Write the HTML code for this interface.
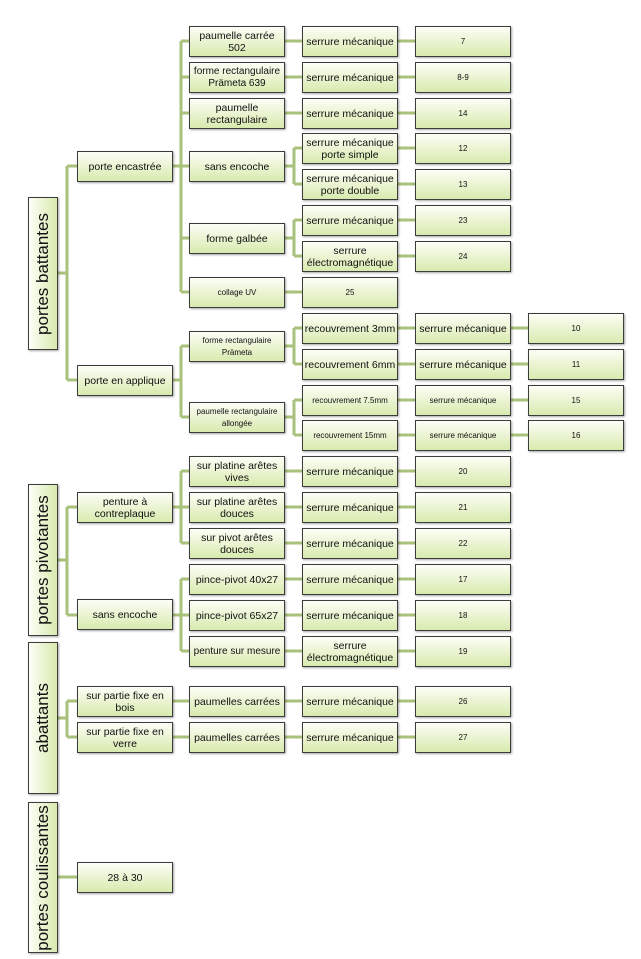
<!DOCTYPE html>
<html><head><meta charset="utf-8"><style>
body{margin:0;width:641px;height:959px;background:#fff;position:relative;overflow:hidden;font-family:"Liberation Sans",sans-serif;}
.b{position:absolute;border:1px solid #3c3c3c;background:linear-gradient(#fcfef6,#d8eaae);box-shadow:1px 1px 2px rgba(0,0,0,.35);display:flex;align-items:center;justify-content:center;text-align:center;font-size:10.5px;line-height:12px;color:#111;box-sizing:border-box;width:96px;height:31px;white-space:nowrap;}
.s{font-size:8px;}
.v{position:absolute;left:28px;width:30px;border:1px solid #3c3c3c;background:linear-gradient(90deg,#fcfef6,#d8eaae);box-shadow:1px 1px 2px rgba(0,0,0,.35);box-sizing:border-box;}
.v span{position:absolute;left:50%;top:50%;transform:translate(-50%,-50%) rotate(-90deg);white-space:nowrap;font-size:17px;color:#111;}
svg{position:absolute;left:0;top:0;}
</style></head><body>
<svg width="641" height="959" stroke="#a9c27b" stroke-width="3" fill="none">
<path d="M57 273H67M67 166V380M67 166H77M67 380H77"/>
<path d="M57 560H67M67 507V615M67 507H77M67 615H77"/>
<path d="M57 718H67M67 701V737M67 701H77M67 737H77"/>
<path d="M57 877H77"/>
<path d="M172 166H181M181 41V292M181 41H189M181 77H189M181 113H189M181 166H189M181 238H189M181 292H189"/>
<path d="M172 380H181M181 346V417M181 346H189M181 417H189"/>
<path d="M172 507H181M181 471V543M181 471H189M181 543H189M181 507H189"/>
<path d="M172 615H181M181 579V651M181 579H189M181 651H189M181 615H189"/>
<path d="M172 701H189M172 737H189"/>
<path d="M284 41H303M284 77H303M284 113H303M284 292H303"/>
<path d="M284 166H294M294 148V184M294 148H303M294 184H303"/>
<path d="M284 238H294M294 220V256M294 220H303M294 256H303"/>
<path d="M284 346H294M294 328V364M294 328H303M294 364H303"/>
<path d="M284 417H294M294 400V435M294 400H303M294 435H303"/>
<path d="M284 471H303M284 507H303M284 543H303M284 579H303M284 615H303M284 651H303M284 701H303M284 737H303"/>
<path d="M397 41H415M397 77H415M397 113H415M397 148H415M397 184H415M397 220H415M397 256H415M397 328H415M397 364H415M397 400H415M397 435H415M397 471H415M397 507H415M397 543H415M397 579H415M397 615H415M397 651H415M397 701H415M397 737H415"/>
<path d="M510 328H528M510 364H528M510 400H528M510 435H528"/>
</svg>
<div class="v" style="top:197px;height:153px"><span>portes battantes</span></div>
<div class="v" style="top:484px;height:152px"><span>portes pivotantes</span></div>
<div class="v" style="top:642px;height:152px"><span>abattants</span></div>
<div class="v" style="top:802px;height:151px"><span>portes coulissantes</span></div>

<div class="b" style="left:77px;top:151px">porte encastrée</div>
<div class="b" style="left:77px;top:365px">porte en applique</div>
<div class="b" style="left:77px;top:492px">penture à<br>contreplaque</div>
<div class="b" style="left:77px;top:599px">sans encoche</div>
<div class="b" style="left:77px;top:686px">sur partie fixe en<br>bois</div>
<div class="b" style="left:77px;top:722px">sur partie fixe en<br>verre</div>
<div class="b" style="left:77px;top:862px">28 à 30</div>

<div class="b" style="left:189px;top:26px">paumelle carrée<br>502</div>
<div class="b" style="left:189px;top:62px;font-size:10px">forme rectangulaire<br>Prämeta 639</div>
<div class="b" style="left:189px;top:98px">paumelle<br>rectangulaire</div>
<div class="b" style="left:189px;top:151px">sans encoche</div>
<div class="b" style="left:189px;top:223px">forme galbée</div>
<div class="b s" style="left:189px;top:277px">collage UV</div>
<div class="b s" style="left:189px;top:331px">forme rectangulaire<br>Prämeta</div>
<div class="b s" style="left:189px;top:402px">paumelle rectangulaire<br>allongée</div>
<div class="b" style="left:189px;top:456px">sur platine arêtes<br>vives</div>
<div class="b" style="left:189px;top:492px">sur platine arêtes<br>douces</div>
<div class="b" style="left:189px;top:528px">sur pivot arêtes<br>douces</div>
<div class="b" style="left:189px;top:564px">pince-pivot 40x27</div>
<div class="b" style="left:189px;top:600px">pince-pivot 65x27</div>
<div class="b" style="left:189px;top:636px;font-size:10px">penture sur mesure</div>
<div class="b" style="left:189px;top:686px">paumelles carrées</div>
<div class="b" style="left:189px;top:722px">paumelles carrées</div>

<div class="b" style="left:302px;top:26px">serrure mécanique</div>
<div class="b" style="left:302px;top:62px">serrure mécanique</div>
<div class="b" style="left:302px;top:98px">serrure mécanique</div>
<div class="b" style="left:302px;top:133px">serrure mécanique<br>porte simple</div>
<div class="b" style="left:302px;top:169px">serrure mécanique<br>porte double</div>
<div class="b" style="left:302px;top:205px">serrure mécanique</div>
<div class="b" style="left:302px;top:241px">serrure<br>électromagnétique</div>
<div class="b s" style="left:302px;top:277px">25</div>
<div class="b" style="left:302px;top:313px">recouvrement 3mm</div>
<div class="b" style="left:302px;top:349px">recouvrement 6mm</div>
<div class="b s" style="left:302px;top:385px">recouvrement 7.5mm</div>
<div class="b s" style="left:302px;top:420px">recouvrement 15mm</div>
<div class="b" style="left:302px;top:456px">serrure mécanique</div>
<div class="b" style="left:302px;top:492px">serrure mécanique</div>
<div class="b" style="left:302px;top:528px">serrure mécanique</div>
<div class="b" style="left:302px;top:564px">serrure mécanique</div>
<div class="b" style="left:302px;top:600px">serrure mécanique</div>
<div class="b" style="left:302px;top:636px">serrure<br>électromagnétique</div>
<div class="b" style="left:302px;top:686px">serrure mécanique</div>
<div class="b" style="left:302px;top:722px">serrure mécanique</div>

<div class="b s" style="left:415px;top:26px">7</div>
<div class="b s" style="left:415px;top:62px">8-9</div>
<div class="b s" style="left:415px;top:98px">14</div>
<div class="b s" style="left:415px;top:133px">12</div>
<div class="b s" style="left:415px;top:169px">13</div>
<div class="b s" style="left:415px;top:205px">23</div>
<div class="b s" style="left:415px;top:241px">24</div>
<div class="b" style="left:415px;top:313px">serrure mécanique</div>
<div class="b" style="left:415px;top:349px">serrure mécanique</div>
<div class="b s" style="left:415px;top:385px">serrure mécanique</div>
<div class="b s" style="left:415px;top:420px">serrure mécanique</div>
<div class="b s" style="left:415px;top:456px">20</div>
<div class="b s" style="left:415px;top:492px">21</div>
<div class="b s" style="left:415px;top:528px">22</div>
<div class="b s" style="left:415px;top:564px">17</div>
<div class="b s" style="left:415px;top:600px">18</div>
<div class="b s" style="left:415px;top:636px">19</div>
<div class="b s" style="left:415px;top:686px">26</div>
<div class="b s" style="left:415px;top:722px">27</div>

<div class="b s" style="left:528px;top:313px">10</div>
<div class="b s" style="left:528px;top:349px">11</div>
<div class="b s" style="left:528px;top:385px">15</div>
<div class="b s" style="left:528px;top:420px">16</div>
</body></html>
